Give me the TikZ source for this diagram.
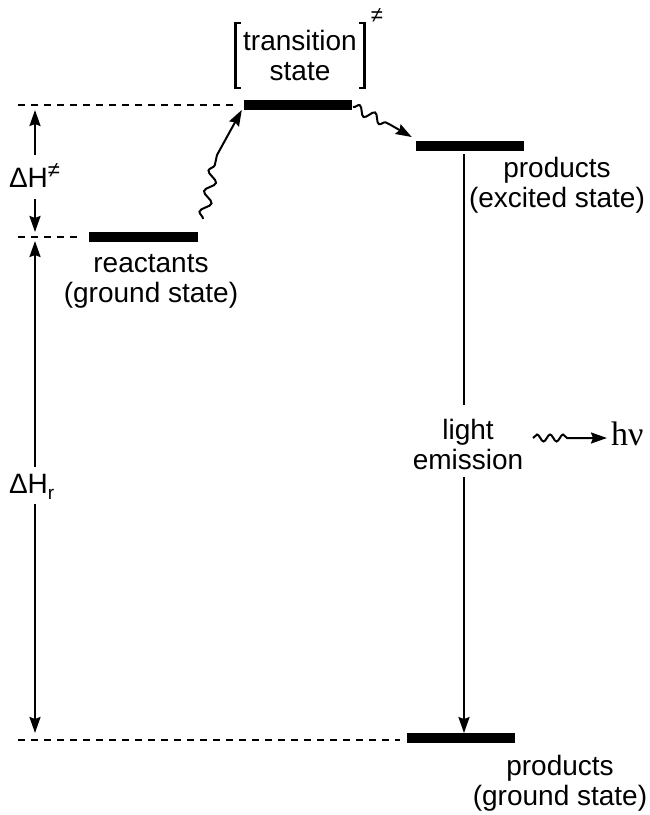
\documentclass[tikz,border=0pt]{standalone}
\usepackage{fontspec}
\setmainfont{Liberation Sans}
\newfontfamily\greekserif{Liberation Serif}
\usetikzlibrary{arrows.meta,decorations.pathmorphing}
\begin{document}
\begin{tikzpicture}[x=1pt,y=-1pt,
  level/.style={fill=black,minimum height=9.5pt,inner sep=0pt,minimum width=#1},
  guide/.style={line width=1.7pt,dash pattern=on 7pt off 6pt},
  lbl/.style={font=\fontsize{28}{30}\selectfont,align=center,inner sep=0pt},
  tip/.style={-{Stealth[length=16pt,width=11pt,inset=2pt]}},
  arr/.style={line width=2.2pt,tip},
  wave/.style={line width=2pt,tip},
  wavy/.style 2 args={decoration={snake,amplitude=#1,segment length=#2}},
]
\useasboundingbox (0,0) rectangle (650,815);

% energy levels
\node[level=108pt] (ts) at (298,105) {};
\node[level=109pt] (re) at (143.5,237) {};
\node[level=108pt] (pe) at (470,146) {};
\node[level=108pt] (pg) at (461,738) {};

% labels
\node[lbl] (tsl) at (300,55) {transition\\state};
\node[lbl] (rel) at (151,281) {reactants\\(ground state)};
\node[lbl] (pel) at (557,185) {products\\(excited state)};
\node[lbl] (pgl) at (560,783) {products\\(ground state)};
\node[lbl] (em) at (468,444) {light\\emission};
\node[inner sep=0pt,anchor=base west,font=\greekserif\fontsize{34}{34}\selectfont] (hv) at (611,445) {hν};

% brackets round the transition state
\draw[line width=2.2pt] (241,23) -- (235.5,23) -- (235.5,88) -- (241,88);
\draw[line width=2.2pt] (359,23) -- (364.5,23) -- (364.5,88) -- (359,88);
\node[inner sep=0pt,font=\fontsize{22}{22}\selectfont] (ne) at (377,16) {≠};

% guide lines
\coordinate (g1) at (18,105);
\coordinate (g2) at (18,237);
\coordinate (g3) at (18,740);
\draw[guide] (g1) -- ([xshift=-9pt]ts.west |- g1);
\draw[guide] (g2) -- ([xshift=-9pt]re.west |- g2);
\draw[guide] (g3) -- ([xshift=-7pt]pg.west |- g3);

% enthalpy labels and arrows
\node[lbl] (dha) at (28.5,176)
  {ΔH\rlap{\raisebox{10pt}{\fontsize{22}{22}\selectfont ≠}}};
\node[lbl] (dhr) at (28.5,487)
  {ΔH\rlap{\raisebox{-6pt}{\fontsize{19}{19}\selectfont r}}};
\coordinate (a1) at (35,155);
\coordinate (a2) at (35,110);
\coordinate (a3) at (35,199);
\coordinate (a4) at (35,232);
\coordinate (b1) at (35,467);
\coordinate (b2) at (35,241);
\coordinate (b3) at (35,504);
\coordinate (b4) at (35,733);
\draw[arr] (a1) -- (a2);
\draw[arr] (a3) -- (a4);
\draw[arr] (b1) -- (b2);
\draw[arr] (b3) -- (b4);

% light emission line
\coordinate (e1) at (464,405);
\coordinate (e2) at (464,477);
\draw[line width=2pt] ([yshift=-3pt]pe.south -| e1) -- (e1);
\draw[arr] (e2) -- (e2 |- pg.north);

% wavy arrows
\coordinate (w1) at (203,219);
\coordinate (w2) at (217,155);
\draw[wave] (w1) decorate[wavy={5pt}{21pt}]{-- (w2)} -- ([xshift=-2pt]ts.south west);
\coordinate (w3) at (353,107);
\coordinate (w4) at (389,124);
\draw[wave] (w3) decorate[wavy={4.5pt}{17pt}]{-- (w4)} -- ([xshift=-4pt,yshift=4pt]pe.north west);
\coordinate (w5) at (533,438);
\coordinate (w6) at (573,438);
\draw[wave] (w5) decorate[wavy={3.5pt}{13pt}]{-- (w6)} -- ([xshift=-4pt]hv.west |- w6);
\end{tikzpicture}
\end{document}
